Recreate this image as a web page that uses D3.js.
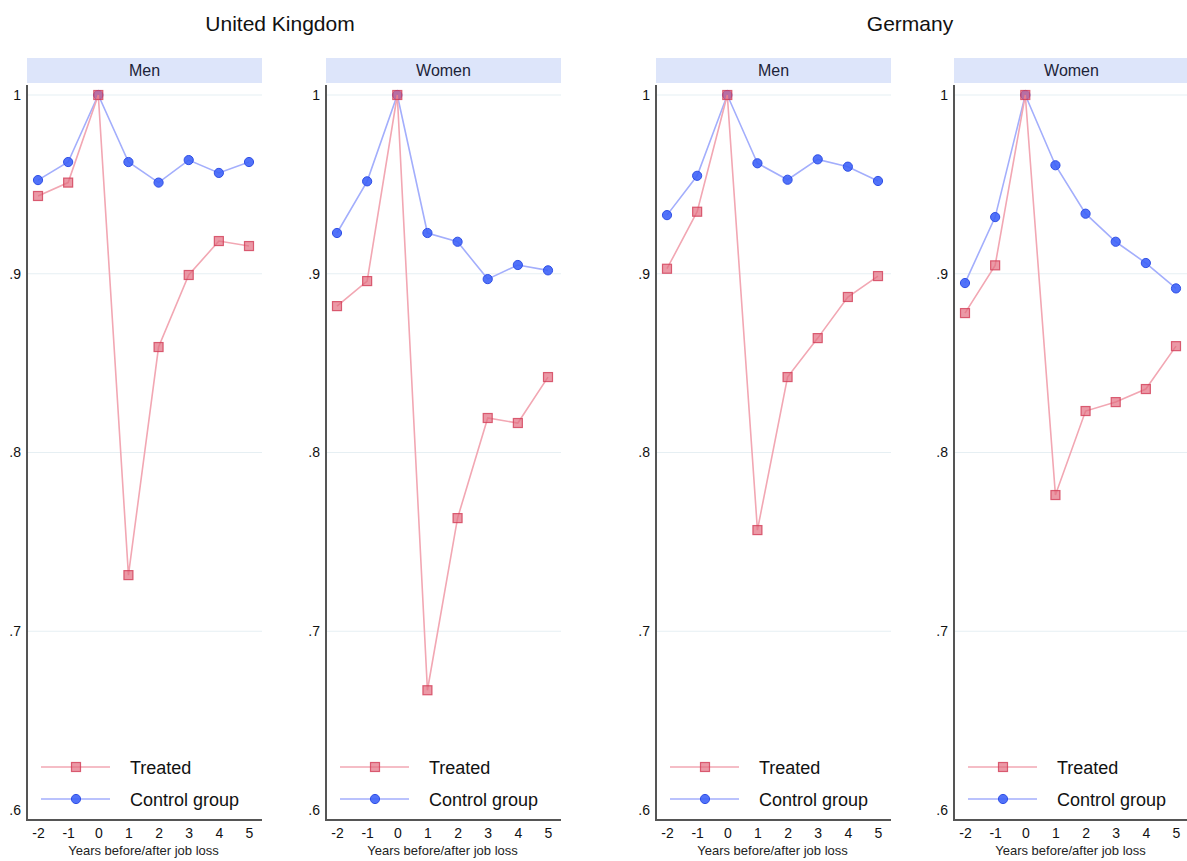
<!DOCTYPE html>
<html>
<head>
<meta charset="utf-8">
<script src="https://cdn.jsdelivr.net/npm/d3@7"></script>
<style>
  body { margin: 0; background: #fff; }
  svg { display: block; font-family: "Liberation Sans", Arial, Helvetica, sans-serif; }
</style>
</head>
<body>
<svg id="chart" width="1187" height="861"></svg>
<script>
// Years relative to job loss
const years = [-2, -1, 0, 1, 2, 3, 4, 5];
const yearLabels = ["-2", "-1", "0", "1", "2", "3", "4", "5"];
const yTicks = [0.6, 0.7, 0.8, 0.9, 1];
const yTickLabels = [".6", ".7", ".8", ".9", "1"];

// Country groups and panel sub-titles
const countries = ["United Kingdom", "Germany"];
const sexes = ["Men", "Women"];

// Employment index relative to year 0
const ukMenTreated   = [0.9435, 0.951, 1, 0.7314, 0.859, 0.8993, 0.9183, 0.9155];
const ukMenControl   = [0.9524, 0.9625, 1, 0.9625, 0.951, 0.9636, 0.9564, 0.9625];
const ukWomenTreated = [0.8819, 0.8959, 1, 0.667, 0.7633, 0.8193, 0.8165, 0.8422];
const ukWomenControl = [0.9228, 0.9517, 1, 0.9228, 0.9179, 0.897, 0.9049, 0.9019];
const deMenTreated   = [0.9028, 0.9347, 1, 0.7566, 0.8422, 0.864, 0.887, 0.8987];
const deMenControl   = [0.9328, 0.9548, 1, 0.9618, 0.9526, 0.964, 0.9599, 0.9519];
const deWomenTreated = [0.878, 0.9047, 1, 0.7762, 0.8232, 0.8282, 0.8355, 0.8595];
const deWomenControl = [0.8948, 0.9317, 1, 0.9607, 0.9336, 0.9179, 0.906, 0.8918];

const panels = [
  { country: 0, sex: 0, treated: ukMenTreated,   control: ukMenControl },
  { country: 0, sex: 1, treated: ukWomenTreated, control: ukWomenControl },
  { country: 1, sex: 0, treated: deMenTreated,   control: deMenControl },
  { country: 1, sex: 1, treated: deWomenTreated, control: deWomenControl }
];

const legendLabels = ["Treated", "Control group"];
const xTitle = "Years before/after job loss";

// Layout
const panelLeft = [27, 326, 656, 954];
const panelW = 235;
const headerTop = 58, headerH = 25;
const plotTop = 85, plotBottom = 820;
const titleX = [280, 910];

const col = {
  treatedLine: "#f2a7b3",
  treatedFill: "#e36d80",
  treatedStroke: "#d23c56",
  controlLine: "#a3aefc",
  controlFill: "#3e63f8",
  controlStroke: "#2f4fe6",
  header: "#dde5fa",
  grid: "#e6eff3",
  axis: "#555"
};

const svg = d3.select("#chart");

const y = d3.scaleLinear().domain([0.6, 1]).range([810, 95]);

countries.forEach((c, i) => {
  svg.append("text")
    .attr("x", titleX[i]).attr("y", 31)
    .attr("text-anchor", "middle")
    .attr("font-size", 21)
    .attr("fill", "#111")
    .text(c);
});

panels.forEach(p => {
  const left = panelLeft[p.country * 2 + p.sex];
  const g = svg.append("g");
  const x = d3.scaleLinear().domain([-2, 5]).range([left + 11, left + 222]);

  // header strip
  g.append("rect")
    .attr("x", left).attr("y", headerTop)
    .attr("width", panelW).attr("height", headerH)
    .attr("fill", col.header);
  g.append("text")
    .attr("x", left + panelW / 2).attr("y", headerTop + 18)
    .attr("text-anchor", "middle")
    .attr("font-size", 16)
    .attr("fill", "#1c2338")
    .text(sexes[p.sex]);

  // gridlines
  g.selectAll(".grid").data(yTicks.filter(t => t > 0.6)).join("line")
    .attr("x1", left + 1).attr("x2", left + panelW)
    .attr("y1", d => y(d)).attr("y2", d => y(d))
    .attr("stroke", col.grid).attr("stroke-width", 1.2);

  // y axis
  const yAxis = d3.axisLeft(y).tickValues(yTicks)
    .tickFormat((d, i) => yTickLabels[i]).tickSize(0).tickPadding(6);
  const ya = g.append("g").attr("transform", `translate(${left},0)`).call(yAxis);
  ya.select(".domain").remove();
  ya.selectAll("text").attr("font-size", 14).attr("fill", "#111")
    .attr("font-family", "'Liberation Sans', Arial, sans-serif");
  g.append("line")
    .attr("x1", left).attr("x2", left)
    .attr("y1", plotTop).attr("y2", plotBottom + 1)
    .attr("stroke", col.axis).attr("stroke-width", 2);

  // x axis
  const xAxis = d3.axisBottom(x).tickValues(years).tickFormat((d, i) => yearLabels[i])
    .tickSize(0).tickPadding(8);
  const xa = g.append("g").attr("transform", `translate(0,${plotBottom})`).call(xAxis);
  xa.select(".domain").remove();
  xa.selectAll("text").attr("font-size", 14).attr("fill", "#111")
    .attr("font-family", "'Liberation Sans', Arial, sans-serif");
  g.append("line")
    .attr("x1", left - 1).attr("x2", left + panelW)
    .attr("y1", plotBottom).attr("y2", plotBottom)
    .attr("stroke", col.axis).attr("stroke-width", 2);
  g.append("text")
    .attr("x", x(1.5)).attr("y", 855)
    .attr("text-anchor", "middle")
    .attr("font-size", 13)
    .attr("fill", "#222")
    .text(xTitle);

  const line = d3.line().x((d, i) => x(years[i])).y(d => y(d));

  // control series
  g.append("path").datum(p.control)
    .attr("d", line).attr("fill", "none")
    .attr("stroke", col.controlLine).attr("stroke-width", 1.6);
  g.selectAll(".ctl").data(p.control).join("circle")
    .attr("cx", (d, i) => x(years[i])).attr("cy", d => y(d))
    .attr("r", 4.6)
    .attr("fill", col.controlFill).attr("fill-opacity", 0.9)
    .attr("stroke", col.controlStroke).attr("stroke-width", 1);

  // treated series
  g.append("path").datum(p.treated)
    .attr("d", line).attr("fill", "none")
    .attr("stroke", col.treatedLine).attr("stroke-width", 1.6);
  g.selectAll(".trt").data(p.treated).join("rect")
    .attr("x", (d, i) => x(years[i]) - 4.5).attr("y", d => y(d) - 4.5)
    .attr("width", 9).attr("height", 9)
    .attr("fill", col.treatedFill).attr("fill-opacity", 0.7)
    .attr("stroke", col.treatedStroke).attr("stroke-opacity", 0.8).attr("stroke-width", 1.2);

  // legend
  const lg = g.append("g").attr("transform", `translate(${left},0)`);
  const ly = [767, 799];
  lg.append("line").attr("x1", 14).attr("x2", 83).attr("y1", ly[0]).attr("y2", ly[0])
    .attr("stroke", col.treatedLine).attr("stroke-width", 1.6);
  lg.append("rect").attr("x", 49 - 4.5).attr("y", ly[0] - 4.5).attr("width", 9).attr("height", 9)
    .attr("fill", col.treatedFill).attr("fill-opacity", 0.7)
    .attr("stroke", col.treatedStroke).attr("stroke-opacity", 0.8).attr("stroke-width", 1.2);
  lg.append("line").attr("x1", 14).attr("x2", 83).attr("y1", ly[1]).attr("y2", ly[1])
    .attr("stroke", col.controlLine).attr("stroke-width", 1.6);
  lg.append("circle").attr("cx", 49).attr("cy", ly[1]).attr("r", 4.6)
    .attr("fill", col.controlFill).attr("fill-opacity", 0.9)
    .attr("stroke", col.controlStroke).attr("stroke-width", 1);
  legendLabels.forEach((t, i) => {
    lg.append("text").attr("x", 103).attr("y", ly[i] + 6.5)
      .attr("font-size", 18).attr("fill", "#111").text(t);
  });
});
</script>
</body>
</html>
